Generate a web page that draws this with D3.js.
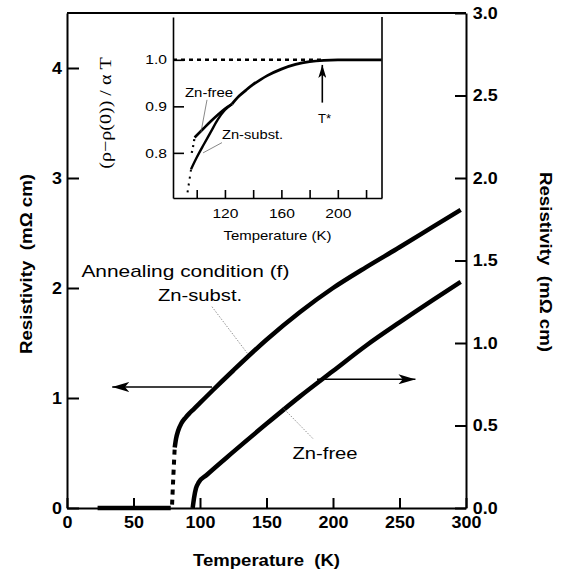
<!DOCTYPE html>
<html>
<head>
<meta charset="utf-8">
<script src="https://cdn.jsdelivr.net/npm/d3@7"></script>
<style>
  body { margin: 0; background: #fff; }
  svg { display: block; font-family: "Liberation Sans", Arial, sans-serif; }
</style>
</head>
<body>
<div id="chart"></div>
<script>
// ---- main panel data ----
// Zn-substituted sample, left axis (mOhm cm)
const substBaseT = [23, 50, 78];
const substBaseR = [0, 0, 0];
const substDotT = [79, 80, 81];
const substDotR = [0.03, 0.3, 0.55];
const substT = [81, 82, 83.5, 86, 89, 92, 95, 100, 110, 125, 150, 175, 200, 225, 250, 275, 296];
const substR = [0.55, 0.63, 0.70, 0.77, 0.82, 0.86, 0.895, 0.955, 1.075, 1.25, 1.53, 1.78, 2.0, 2.19, 2.37, 2.555, 2.71];
// Zn-free sample, right axis (mOhm cm)
const freeT = [94.5, 95.5, 97, 99, 105, 125, 150, 175, 200, 225, 250, 275, 296];
const freeR = [0, 0.06, 0.12, 0.155, 0.2, 0.34, 0.51, 0.675, 0.83, 0.985, 1.125, 1.26, 1.37];

const xTicks = [0, 50, 100, 150, 200, 250, 300];
const leftTicks = [0, 1, 2, 3, 4];
const rightTicks = [0, 0.5, 1.0, 1.5, 2.0, 2.5, 3.0];

// ---- inset data: (rho - rho(0)) / alpha T ----
const insetCommonT = [125, 130, 135, 140, 145, 150, 160, 170, 180, 190, 200, 231];
const insetCommonV = [0.905, 0.922, 0.935, 0.947, 0.957, 0.966, 0.980, 0.990, 0.996, 0.999, 1.0, 1.0];
const insetFreeT = [98.5, 105, 110, 115, 120, 125];
const insetFreeV = [0.833, 0.853, 0.868, 0.882, 0.895, 0.905];
const insetFreeDotT = [96.5, 97.5, 98.5];
const insetFreeDotV = [0.80, 0.815, 0.833];
const insetSubstT = [96, 100, 105, 110, 115, 120, 125];
const insetSubstV = [0.765, 0.79, 0.818, 0.845, 0.872, 0.892, 0.905];
const insetSubstDotT = [93.5, 94.5, 95.5, 96];
const insetSubstDotV = [0.715, 0.735, 0.755, 0.765];
const insetRefT = [83.2, 190];
const insetRefV = [1.0, 1.0];

const insetXTicks = [100, 120, 140, 160, 180, 200, 220];
const insetXLabels = [120, 160, 200];
const insetYTicks = [0.8, 0.9, 1.0];

const zip = (a, b) => a.map((d, i) => [d, b[i]]);

const W = 568, H = 576;
const svg = d3.select("#chart").append("svg")
  .attr("width", W)
  .attr("height", H);

// scales
const x = d3.scaleLinear().domain([0, 300]).range([67, 466]);
const yL = d3.scaleLinear().domain([0, 4.5]).range([508, 13]);
const yR = d3.scaleLinear().domain([0, 3]).range([508, 13]);

const ix = d3.scaleLinear().domain([83.2, 231.3]).range([173, 382]);
const iy = d3.scaleLinear().domain([0.703, 1.092]).range([198, 17]);

// arrow heads
const defs = svg.append("defs");
function head(id, len, half) {
  defs.append("marker")
    .attr("id", id)
    .attr("markerUnits", "userSpaceOnUse")
    .attr("viewBox", `0 ${-half} ${len} ${2 * half}`)
    .attr("refX", len).attr("refY", 0)
    .attr("markerWidth", len).attr("markerHeight", 2 * half)
    .attr("orient", "auto")
    .append("path")
    .attr("d", `M0,${-half} L${len},0 L0,${half} L${len * 0.25},0 Z`)
    .attr("fill", "#000");
}
head("bigHead", 17, 5);
head("smallHead", 13, 4);

// helper: place text with horizontal stretch (the figure lettering is wide)
function label(g, txt, px, py, opts) {
  const o = Object.assign({ size: 17, weight: "normal", anchor: "middle", sx: 1.2, rot: 0, family: null }, opts);
  const t = g.append("text")
    .attr("transform", `translate(${px},${py}) rotate(${o.rot}) scale(${o.sx},1)`)
    .attr("text-anchor", o.anchor)
    .attr("font-size", o.size)
    .attr("font-weight", o.weight)
    .attr("fill", "#000")
    .style("white-space", "pre")
    .text(txt);
  if (o.family) t.attr("font-family", o.family);
  return t;
}

// ---- main axes ----
const axisStyle = (g) => {
  g.selectAll(".domain").attr("stroke", "#000").attr("stroke-width", 2);
  g.selectAll(".tick line").attr("stroke", "#000").attr("stroke-width", 2);
  g.selectAll(".tick text")
    .attr("font-family", "'Liberation Sans', Arial, sans-serif")
    .attr("font-weight", "bold")
    .attr("font-size", 16)
    .attr("fill", "#000")
    .attr("transform", "scale(1.12,1)");
};

svg.append("g")
  .attr("transform", "translate(0,508)")
  .call(d3.axisBottom(x).tickValues(xTicks).tickFormat(d3.format("d"))
    .tickSizeInner(-10).tickSizeOuter(0).tickPadding(9))
  .call(axisStyle);

svg.append("g")
  .attr("transform", "translate(67,0)")
  .call(d3.axisLeft(yL).tickValues(leftTicks).tickFormat(d3.format("d"))
    .tickSizeInner(-12).tickSizeOuter(0).tickPadding(4.5))
  .call(axisStyle);

svg.append("g")
  .attr("transform", "translate(466,0)")
  .call(d3.axisRight(yR).tickValues(rightTicks).tickFormat(d3.format(".1f"))
    .tickSizeInner(-11).tickSizeOuter(0).tickPadding(6))
  .call(axisStyle);

// top border
svg.append("line")
  .attr("x1", x(0)).attr("x2", x(300))
  .attr("y1", yL(4.5)).attr("y2", yL(4.5))
  .attr("stroke", "#000").attr("stroke-width", 2);

// axis titles
label(svg, "Temperature  (K)", (x(0) + x(300)) / 2, 566, { size: 16, weight: "bold", sx: 1.16 });
label(svg, "Resistivity  (m\u03A9 cm)", 32, 264, { size: 17, weight: "bold", sx: 1.1, rot: -90 });
label(svg, "Resistivity  (m\u03A9 cm)", 540, 262, { size: 17, weight: "bold", sx: 1.1, rot: 90 });

// ---- main curves ----
const lineL = d3.line().x(d => x(d[0])).y(d => yL(d[1])).curve(d3.curveMonotoneX);
const lineR = d3.line().x(d => x(d[0])).y(d => yR(d[1])).curve(d3.curveMonotoneX);

const curves = svg.append("g").attr("fill", "none").attr("stroke", "#000");
curves.append("path").attr("d", lineL(zip(substBaseT, substBaseR))).attr("stroke-width", 4.5);
curves.append("path").attr("d", lineL(zip(substDotT, substDotR)))
  .attr("stroke-width", 4).attr("stroke-dasharray", "5,5");
curves.append("path").attr("d", lineL(zip(substT, substR))).attr("stroke-width", 4.5);
curves.append("path").attr("d", lineR(zip(freeT, freeR))).attr("stroke-width", 4.5);

// axis-pointing arrows
svg.append("line")
  .attr("x1", x(109)).attr("x2", x(34))
  .attr("y1", yL(1.10)).attr("y2", yL(1.10))
  .attr("stroke", "#000").attr("stroke-width", 1.6)
  .attr("marker-end", "url(#bigHead)");
svg.append("line")
  .attr("x1", x(188)).attr("x2", x(262))
  .attr("y1", yR(0.78)).attr("y2", yR(0.78))
  .attr("stroke", "#000").attr("stroke-width", 1.6)
  .attr("marker-end", "url(#bigHead)");

// annotations
label(svg, "Annealing condition (f)", x(89), yL(2.10), { size: 17, sx: 1.23 });
label(svg, "Zn-subst.", x(100), yL(1.88), { size: 17, sx: 1.19 });
label(svg, "Zn-free", x(194), yR(0.30), { size: 17, sx: 1.19 });

const leader = (x1, y1, x2, y2) => svg.append("line")
  .attr("x1", x1).attr("y1", y1).attr("x2", x2).attr("y2", y2)
  .attr("stroke", "#777").attr("stroke-width", 0.8).attr("stroke-dasharray", "1.5,1.5");
leader(x(109), yL(1.83), x(136), yL(1.40));
leader(x(162), yR(0.61), x(185), yR(0.42));

// ---- inset ----
const inset = svg.append("g");
const insetStyle = (g) => {
  g.selectAll(".domain").attr("stroke", "#000").attr("stroke-width", 1.6);
  g.selectAll(".tick line").attr("stroke", "#000").attr("stroke-width", 1.6);
  g.selectAll(".tick text")
    .attr("font-family", "'Liberation Sans', Arial, sans-serif")
    .attr("font-size", 13)
    .attr("fill", "#000")
    .attr("transform", "scale(1.2,1)");
};

inset.append("g")
  .attr("transform", `translate(0,${iy(0.703)})`)
  .call(d3.axisBottom(ix).tickValues(insetXTicks)
    .tickFormat(d => insetXLabels.includes(d) ? d : "")
    .tickSizeInner(-8).tickSizeOuter(0).tickPadding(11))
  .call(insetStyle);

inset.append("g")
  .attr("transform", `translate(${ix(83.2)},0)`)
  .call(d3.axisLeft(iy).tickValues(insetYTicks).tickFormat(d3.format(".1f"))
    .tickSizeInner(-11).tickSizeOuter(0).tickPadding(5))
  .call(insetStyle);

inset.append("line")
  .attr("x1", ix(231.3)).attr("x2", ix(231.3))
  .attr("y1", iy(1.092)).attr("y2", iy(0.703))
  .attr("stroke", "#000").attr("stroke-width", 1.6);

const iline = d3.line().x(d => ix(d[0])).y(d => iy(d[1])).curve(d3.curveMonotoneX);
const ic = inset.append("g").attr("fill", "none").attr("stroke", "#000");
ic.append("path").attr("d", iline(zip(insetRefT, insetRefV)))
  .attr("stroke-width", 2.4).attr("stroke-dasharray", "4,4");
ic.append("path").attr("d", iline(zip(insetCommonT, insetCommonV))).attr("stroke-width", 2.8);
ic.append("path").attr("d", iline(zip(insetFreeT, insetFreeV))).attr("stroke-width", 2.6);
ic.append("path").attr("d", iline(zip(insetSubstT, insetSubstV))).attr("stroke-width", 2.4);
ic.append("path").attr("d", iline(zip(insetFreeDotT, insetFreeDotV)))
  .attr("stroke-width", 2.2).attr("stroke-dasharray", "2,4");
ic.append("path").attr("d", iline(zip(insetSubstDotT, insetSubstDotV)))
  .attr("stroke-width", 2).attr("stroke-dasharray", "2,5");

// inset titles
label(inset, "Temperature (K)", (ix(83.2) + ix(231.3)) / 2, 240, { size: 13, sx: 1.15 });
label(inset, "(\u03C1\u2212\u03C1(0)) / \u03B1 T", 111, 113, {
  size: 17, sx: 1.18, rot: -90, family: "'Liberation Serif', 'Times New Roman', serif"
});

// inset annotations
label(inset, "Zn-free", ix(91.7), iy(0.921), { size: 13, sx: 1.15, anchor: "start" });
label(inset, "Zn-subst.", ix(117.9), iy(0.829), { size: 13, sx: 1.13, anchor: "start" });
label(inset, "T*", ix(186), iy(0.865), { size: 13, sx: 1.0, anchor: "start" });

const ileader = (t1, v1, t2, v2) => inset.append("line")
  .attr("x1", ix(t1)).attr("y1", iy(v1)).attr("x2", ix(t2)).attr("y2", iy(v2))
  .attr("stroke", "#555").attr("stroke-width", 0.7);
ileader(107.3, 0.914, 103, 0.844);
ileader(117.9, 0.822, 104.5, 0.80);

inset.append("line")
  .attr("x1", ix(189)).attr("x2", ix(189))
  .attr("y1", iy(0.908)).attr("y2", iy(0.989))
  .attr("stroke", "#000").attr("stroke-width", 1.6)
  .attr("marker-end", "url(#smallHead)");
</script>
</body>
</html>
